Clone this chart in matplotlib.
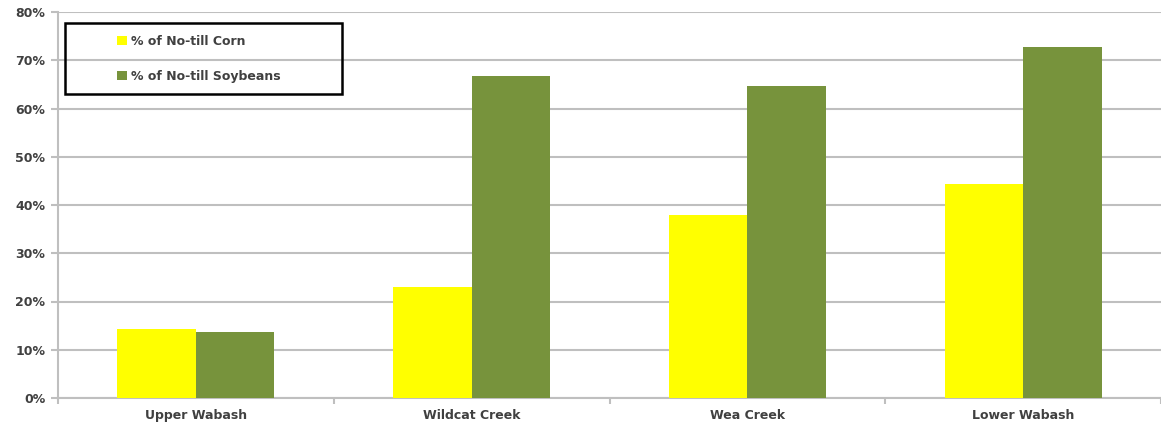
import numpy as np
import matplotlib
matplotlib.use('Agg')
import matplotlib.pyplot as plt
from matplotlib.patches import Rectangle
from matplotlib.ticker import MultipleLocator, PercentFormatter

plt.rcParams['font.family'] = ['DejaVu Sans']

regions = ['Upper Wabash', 'Wildcat Creek', 'Wea Creek', 'Lower Wabash']
corn = [14.3, 23.0, 38.0, 44.4]
soybeans = [13.7, 66.8, 64.7, 72.7]

W, H = 1161, 426
fig = plt.figure(figsize=(W / 100, H / 100), dpi=100)
ax = fig.add_axes([58 / W, 28 / H, 1 - 58 / W, 386 / H])

x = np.arange(len(regions))
bw = 0.285
ax.bar(x - bw / 2, corn, bw, color='#FFFF00', label='% of No-till Corn', zorder=3)
ax.bar(x + bw / 2, soybeans, bw, color='#77933C', label='% of No-till Soybeans', zorder=3)

ax.set_ylim(0, 80)
ax.set_xlim(-0.5, 3.5 - 5 / 277)
ax.yaxis.set_major_locator(MultipleLocator(10))
ax.yaxis.set_major_formatter(PercentFormatter(decimals=0))
ax.grid(axis='y', color='#BFBFBF', linewidth=1.5, zorder=0)

ax.set_xticks(x)
ax.set_xticklabels(regions)
ax.set_xticks(np.arange(-0.5, 4, 1), minor=True)
ax.tick_params(axis='x', which='major', length=0, pad=8)
ax.tick_params(axis='x', which='minor', length=4, color='#BFBFBF', width=1.5)
ax.tick_params(axis='y', length=5, color='#BFBFBF', width=1.5, pad=4)
for lab in ax.get_xticklabels() + ax.get_yticklabels():
    lab.set_fontsize(9)
    lab.set_fontweight('bold')
    lab.set_color('#404040')

for s in ['top', 'right']:
    ax.spines[s].set_visible(False)
for s in ['left', 'bottom']:
    ax.spines[s].set_color('#BFBFBF')
    ax.spines[s].set_linewidth(1.5)

# legend box drawn separately, entries placed inside it
box = Rectangle((65 / W, 1 - 94 / H), 277 / W, 71 / H, transform=fig.transFigure,
                fill=False, edgecolor='black', linewidth=1.8, zorder=10)
fig.patches.append(box)
leg = ax.legend(loc='upper left', bbox_to_anchor=(117 / W, 1 - 35 / H),
                bbox_transform=fig.transFigure, frameon=False, borderpad=0,
                labelspacing=1.75, handlelength=0.8, handleheight=0.8,
                handletextpad=0.3, prop={'size': 9, 'weight': 'bold'}, borderaxespad=0)
for t in leg.get_texts():
    t.set_color('#404040')

fig.savefig('out.png', dpi=100)
